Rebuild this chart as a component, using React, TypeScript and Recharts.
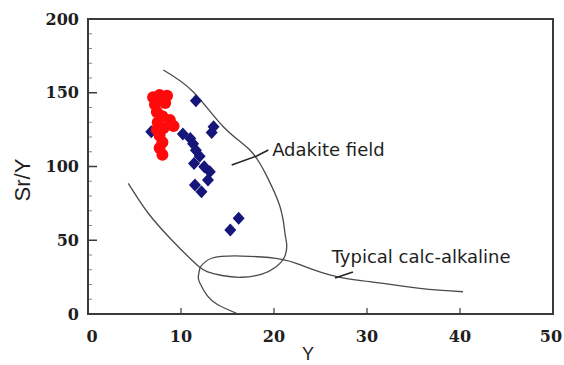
import React from "react";
import {
  ComposedChart,
  XAxis,
  YAxis,
  Scatter,
  Line,
  ReferenceArea,
  ReferenceDot,
} from "recharts";

// ---- data ----
const xTicks = [0, 10, 20, 30, 40, 50];
const yMajorTicks = [0, 50, 100, 150, 200];
const yMinorTicks = [10, 20, 30, 40, 60, 70, 80, 90, 110, 120, 130, 140, 160, 170, 180, 190];

const redX = [7.0, 7.7, 8.5, 7.2, 8.3, 7.4, 8.0, 7.5, 8.8, 9.2, 8.1, 7.4, 7.7, 8.0, 7.7, 8.0];
const redY = [147, 148.5, 148, 142, 143, 137, 134, 130, 131.5, 127.5, 126, 125, 121, 116.5, 112.5, 108];

const blueX = [11.6, 13.5, 13.3, 6.8, 10.2, 11.0, 11.3, 11.6, 12.0, 11.4, 12.5, 13.1, 12.9, 11.5, 12.2, 16.2, 15.3];
const blueY = [144.6, 127, 123, 123.6, 122, 119, 115.5, 111, 107, 102, 99.8, 96.5, 90.8, 87.5, 82.9, 65, 57];

const adakiteX = [8.1, 11.3, 14.55, 17.4, 19.1, 20.65, 21.18, 21.37, 21.13, 20.2, 18.7, 16.5, 14.4, 12.8, 12.04];
const adakiteY = [165.4, 150.7, 127, 111.2, 95, 72.7, 54.7, 46.8, 38.6, 31.9, 27.1, 24.9, 26.1, 28.8, 31.5];

const calcUpperX = [4.33, 6.48, 9.0, 11.15, 12.04];
const calcUpperY = [88.6, 68.3, 50.2, 36.6, 31.5];

const calcLowerX = [12.04, 11.86, 12.04, 12.76, 14.01, 16.16];
const calcLowerY = [31.5, 25.1, 20.8, 12.9, 6.1, 0];

const calcLineX = [12.04, 13.3, 16.53, 20.83, 23.33, 26.74, 30.32, 35.7, 40.32];
const calcLineY = [31.5, 37.8, 39.3, 37.1, 32.1, 25.3, 21.9, 17.4, 15.1];

const adakitePointer = [{ x: 15.45, y: 101 }, { x: 18.14, y: 107.1 }, { x: 19.39, y: 111.2 }];
const calcPointer = [{ x: 26.56, y: 24.4 }, { x: 28.49, y: 28.5 }];

const labelAdakite = { x: 19.8, y: 107, text: "Adakite field" };
const labelCalc = { x: 26.2, y: 34.6, text: "Typical calc-alkaline" };
const xAxisTitle = "Y";
const yAxisTitle = "Sr/Y";

const toPts = (xs: number[], ys: number[]) => xs.map((x, i) => ({ x, y: ys[i] }));
const redPoints = toPts(redX, redY);
const bluePoints = toPts(blueX, blueY);
const adakite = toPts(adakiteX, adakiteY);
const calcUpper = toPts(calcUpperX, calcUpperY);
const calcLower = toPts(calcLowerX, calcLowerY);
const calcLine = toPts(calcLineX, calcLineY);

const yAllTicks = [...yMajorTicks, ...yMinorTicks].sort((a, b) => a - b);

const AXIS = "#3a3a3a";
const CURVE = "#4a4a4a";
const TXT = "#1e1e1e";
const tickFont = { fontFamily: "DejaVu Serif", fontWeight: 700, fontSize: 16, fill: TXT };

const YTickLeft = (props: any) => {
  const { x, y, payload } = props;
  const v = payload.value;
  const major = yMajorTicks.includes(v);
  const len = major ? 9 : 4;
  return (
    <g>
      {v !== 0 && v !== 200 && (
        <line x1={x} x2={x + len} y1={y} y2={y} stroke={AXIS} strokeWidth={major ? 1.5 : 1} opacity={major ? 1 : 0.6} />
      )}
      {major && (
        <text x={x - 9} y={y} dy={5.5} textAnchor="end" {...tickFont}>
          {v}
        </text>
      )}
    </g>
  );
};

const YTickRight = (props: any) => {
  const { x, y, payload } = props;
  const v = payload.value;
  if (v === 0 || v === 200) return <g />;
  return <line x1={x} x2={x - 8} y1={y} y2={y} stroke={AXIS} strokeWidth={1.5} />;
};

const XTick = (props: any) => {
  const { x, y, payload } = props;
  const v = payload.value;
  const dx = v === 0 ? 4 : v === 50 ? -2 : 0;
  return (
    <g>
      {v !== 0 && v !== 50 && (
        <line x1={x} x2={x} y1={y} y2={y - 6} stroke={AXIS} strokeWidth={1.2} />
      )}
      <text x={x + dx} y={y + 28} textAnchor="middle" {...tickFont}>
        {v}
      </text>
    </g>
  );
};

const Diamond = (p: any) => (
  <polygon
    points={`${p.cx},${p.cy - 6.5} ${p.cx + 6},${p.cy} ${p.cx},${p.cy + 6.5} ${p.cx - 6},${p.cy}`}
    fill="#16167a"
  />
);
const Dot = (p: any) => <circle cx={p.cx} cy={p.cy} r={6} fill="#ff0a0a" />;

const annot = (text: string) => (props: any) => {
  const vb = props.viewBox || {};
  return (
    <text x={vb.x} y={vb.y} fontFamily="DejaVu Sans" fontSize={18} fill={TXT}>
      {text}
    </text>
  );
};

export default function App() {
  return (
    <div style={{ width: 564, height: 365, overflow: "hidden" }}>
      <style>{`html, body { margin: 0; padding: 0; overflow: hidden; }`}</style>
      <ComposedChart
        width={564}
        height={365}
        margin={{ top: 19, right: 11, left: 0, bottom: 0 }}
      >
        <XAxis
          type="number"
          dataKey="x"
          domain={[0, 50]}
          ticks={xTicks}
          interval={0}
          allowDataOverflow
          height={51}
          axisLine={false}
          tickLine={false}
          tickSize={0}
          tickMargin={0}
          tick={<XTick />}
          label={{
            content: () => (
              <text x={308} y={360} textAnchor="middle" fontFamily="Liberation Sans" fontSize={18} fill={TXT}>
                {xAxisTitle}
              </text>
            ),
          }}
        />
        <YAxis
          type="number"
          dataKey="y"
          domain={[0, 200]}
          ticks={yAllTicks}
          interval={0}
          allowDataOverflow
          width={88}
          axisLine={false}
          tickLine={false}
          tickSize={0}
          tickMargin={0}
          tick={<YTickLeft />}
          label={{
            content: () => (
              <text
                x={30}
                y={180}
                transform="rotate(-90 30 180)"
                textAnchor="middle"
                fontFamily="Liberation Sans"
                fontSize={22}
                fill={TXT}
              >
                {yAxisTitle}
              </text>
            ),
          }}
        />
        <YAxis
          yAxisId="r"
          orientation="right"
          type="number"
          domain={[0, 200]}
          ticks={yMajorTicks}
          interval={0}
          width={0}
          axisLine={false}
          tickLine={false}
          tickSize={0}
          tickMargin={0}
          tick={<YTickRight />}
        />
        <ReferenceArea
          x1={0}
          x2={50}
          y1={0}
          y2={200}
          fill="none"
          fillOpacity={0}
          stroke={AXIS}
          strokeWidth={2}
          ifOverflow="visible"
        />
        <Line data={adakite} dataKey="y" type="natural" dot={false} stroke={CURVE} strokeWidth={1.3} isAnimationActive={false} />
        <Line data={calcUpper} dataKey="y" type="natural" dot={false} stroke={CURVE} strokeWidth={1.3} isAnimationActive={false} />
        <Line data={calcLower} dataKey="y" type="natural" dot={false} stroke={CURVE} strokeWidth={1.3} isAnimationActive={false} />
        <Line data={calcLine} dataKey="y" type="natural" dot={false} stroke={CURVE} strokeWidth={1.3} isAnimationActive={false} />
        <Line data={adakitePointer} dataKey="y" type="linear" dot={false} stroke="#222" strokeWidth={1.5} isAnimationActive={false} />
        <Line data={calcPointer} dataKey="y" type="linear" dot={false} stroke="#222" strokeWidth={1.5} isAnimationActive={false} />
        <Scatter data={bluePoints} dataKey="y" shape={<Diamond />} isAnimationActive={false} />
        <Scatter data={redPoints} dataKey="y" shape={<Dot />} isAnimationActive={false} />
        <ReferenceDot x={labelAdakite.x} y={labelAdakite.y} r={0} fill="none" stroke="none" ifOverflow="visible" label={{ content: annot(labelAdakite.text) }} />
        <ReferenceDot x={labelCalc.x} y={labelCalc.y} r={0} fill="none" stroke="none" ifOverflow="visible" label={{ content: annot(labelCalc.text) }} />
      </ComposedChart>
    </div>
  );
}
